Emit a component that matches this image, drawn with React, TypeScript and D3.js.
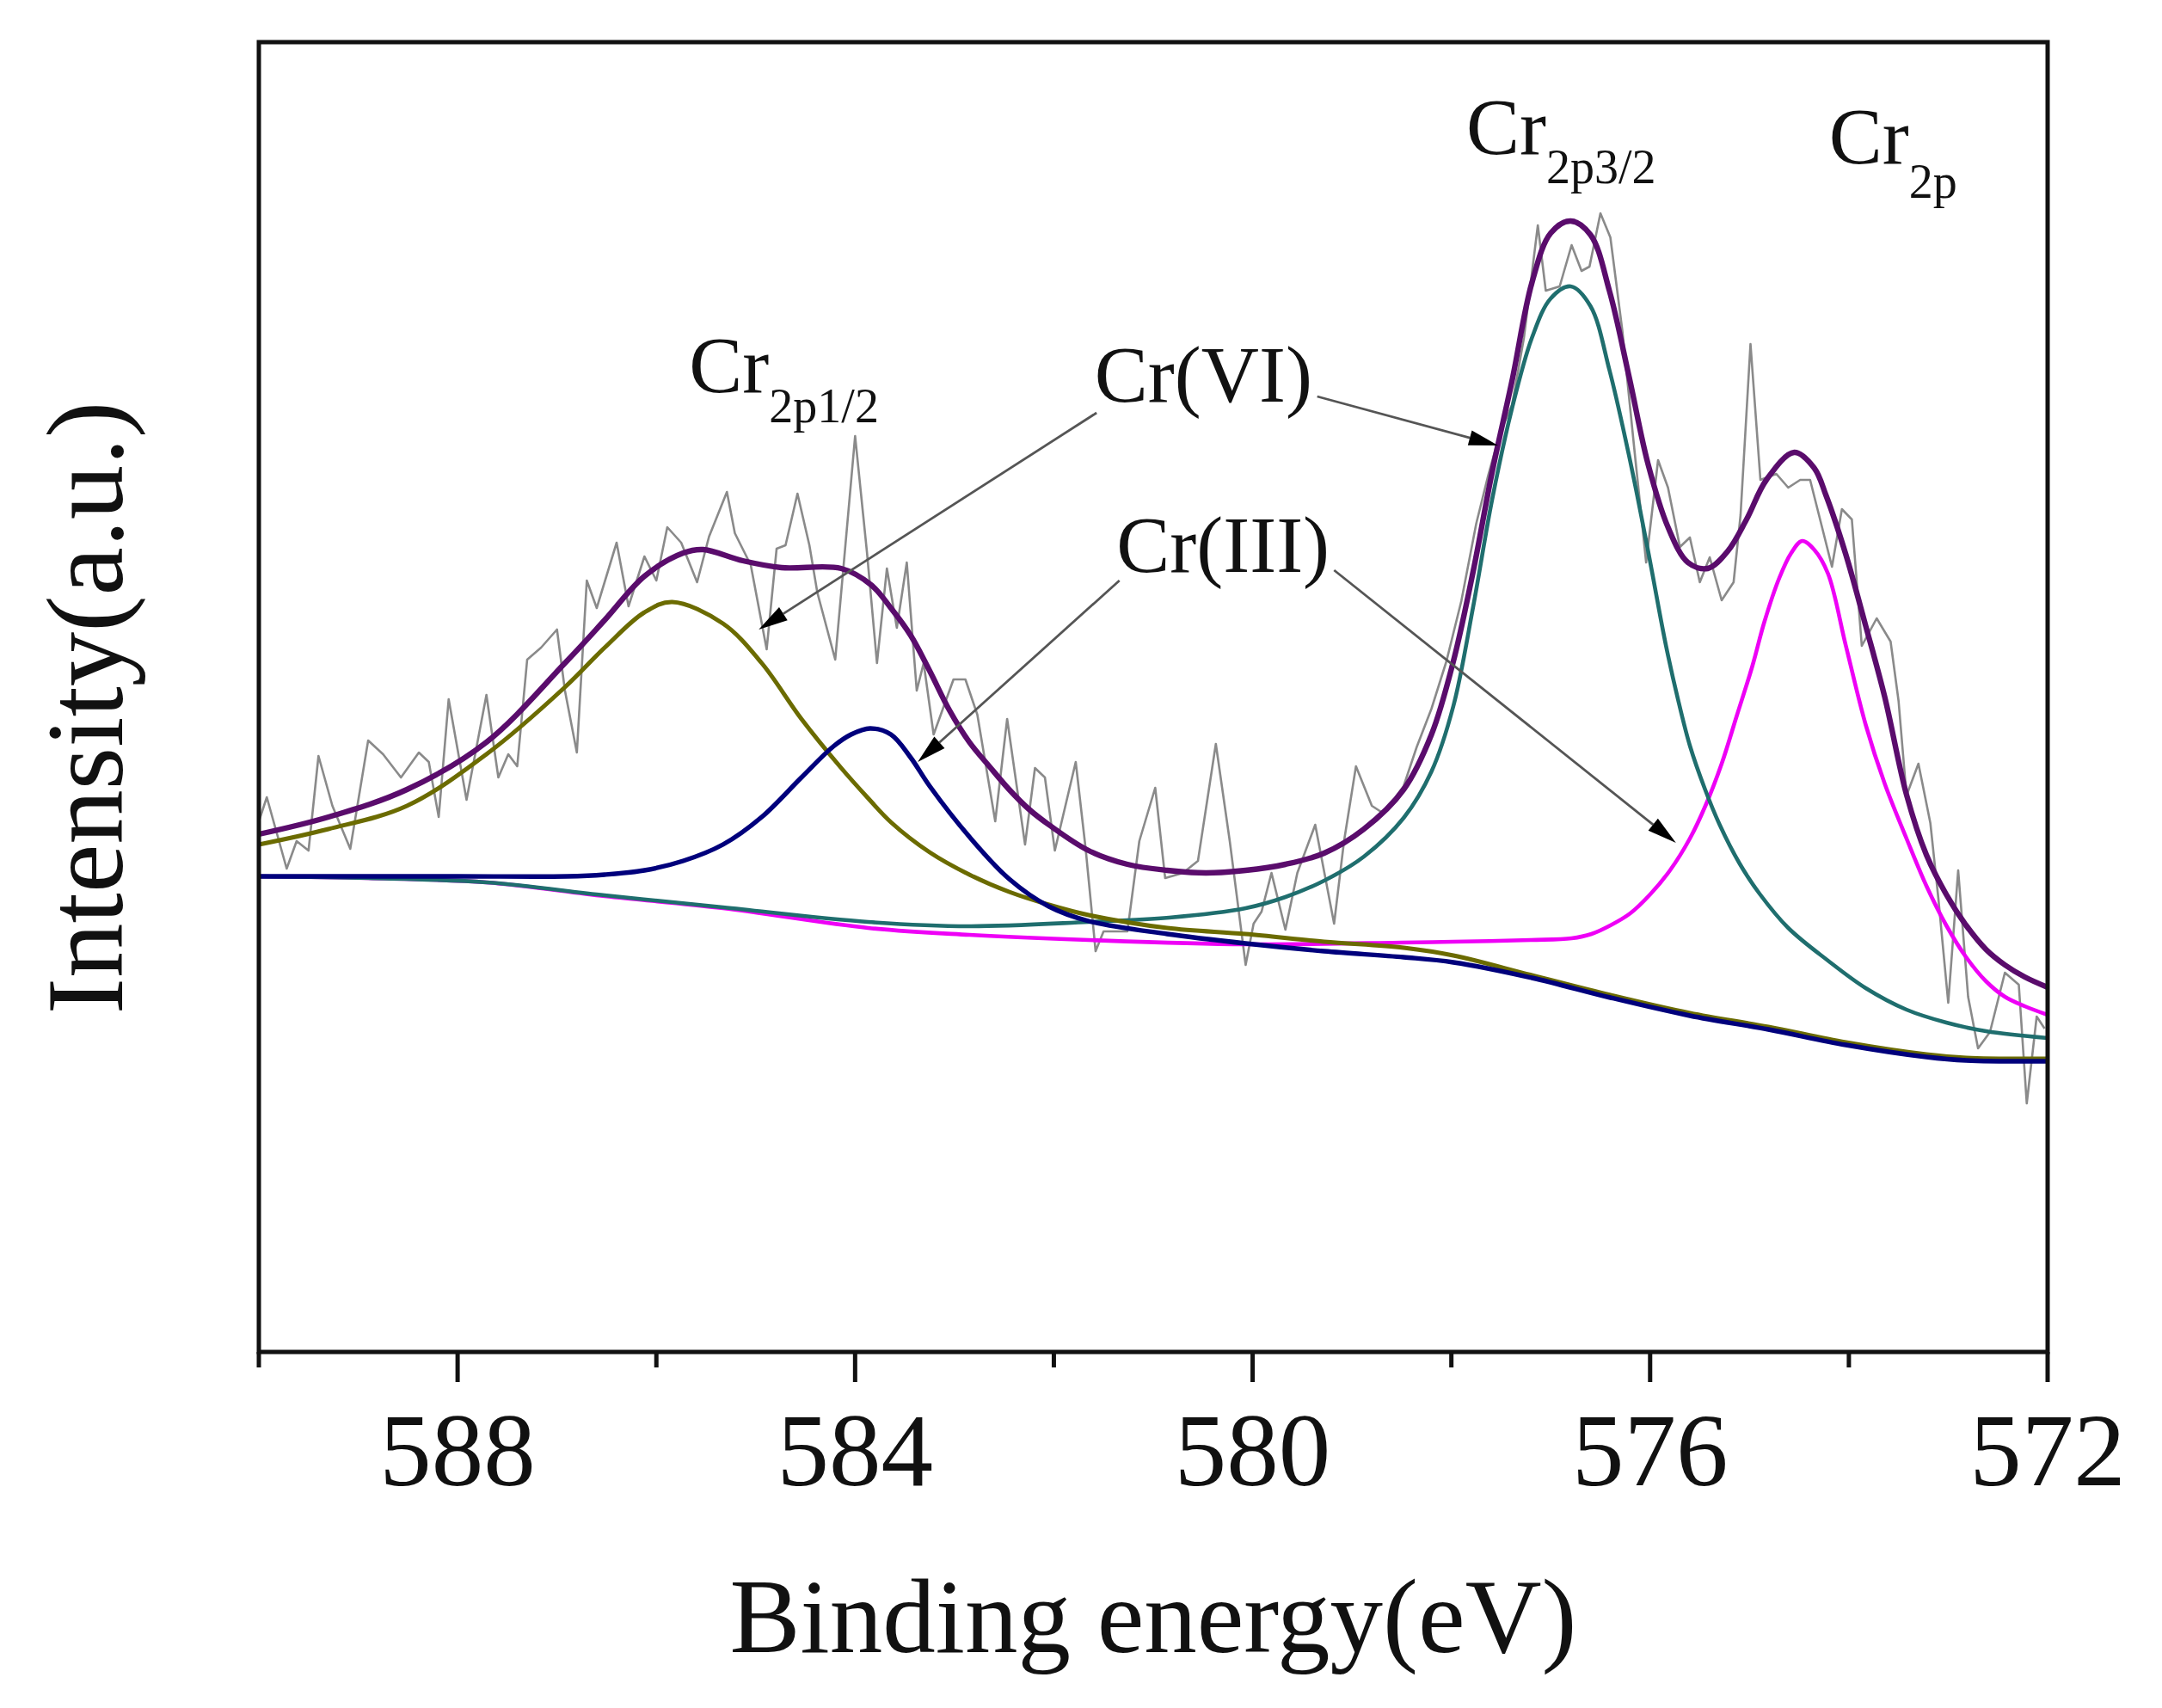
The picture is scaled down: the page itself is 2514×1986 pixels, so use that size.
import { useEffect } from "react"
import * as d3 from "d3"

const WIDTH = 2514
const HEIGHT = 1986

// [binding energy (eV), intensity (a.u.)]
const rawSpectrum: [number, number][] = [
  [590.0, 614], [589.92, 642], [589.72, 559], [589.62, 591], [589.5, 580], [589.4, 690],
  [589.26, 632], [589.08, 582], [588.9, 708], [588.75, 692], [588.57, 665], [588.39, 694],
  [588.29, 683], [588.19, 619], [588.09, 756], [587.91, 639], [587.71, 761], [587.59, 665],
  [587.49, 692], [587.4, 678], [587.3, 802], [587.16, 816], [587.0, 837], [586.92, 766],
  [586.8, 694], [586.7, 894], [586.6, 862], [586.4, 938], [586.28, 864], [586.12, 922],
  [586.0, 894], [585.89, 956], [585.75, 938], [585.59, 892], [585.47, 945], [585.29, 997],
  [585.21, 949], [585.05, 912], [584.89, 814], [584.79, 931], [584.7, 935], [584.58, 995],
  [584.46, 935], [584.38, 880], [584.2, 802], [584.0, 1062], [583.88, 926], [583.78, 798],
  [583.68, 908], [583.58, 839], [583.48, 915], [583.38, 766], [583.31, 798], [583.21, 715],
  [583.01, 779], [582.89, 779], [582.77, 738], [582.59, 614], [582.47, 733], [582.29, 587],
  [582.19, 676], [582.09, 665], [581.99, 580], [581.78, 683], [581.68, 582], [581.58, 463],
  [581.5, 486], [581.26, 486], [581.14, 591], [580.98, 653], [580.88, 548], [580.7, 554],
  [580.55, 568], [580.37, 704], [580.23, 591], [580.07, 447], [579.99, 495], [579.91, 509],
  [579.81, 554], [579.67, 488], [579.55, 554], [579.37, 610], [579.18, 495], [579.08, 591],
  [578.96, 678], [578.8, 632], [578.68, 623], [578.48, 655], [578.35, 700], [578.2, 745],
  [578.05, 800], [577.9, 870], [577.75, 960], [577.63, 1016], [577.51, 1066], [577.39, 1098],
  [577.27, 1176], [577.13, 1307], [577.05, 1231], [576.91, 1236], [576.79, 1284], [576.69, 1254],
  [576.61, 1259], [576.5, 1321], [576.4, 1293], [576.28, 1185], [576.16, 1048], [576.04, 915],
  [575.92, 1034], [575.82, 1002], [575.7, 933], [575.6, 944], [575.5, 892], [575.4, 921],
  [575.28, 871], [575.16, 892], [575.09, 970], [574.99, 1169], [574.89, 1011], [574.73, 1018],
  [574.61, 1002], [574.49, 1011], [574.39, 1011], [574.27, 956], [574.17, 910], [574.07, 977],
  [573.97, 965], [573.87, 818], [573.72, 850], [573.58, 823], [573.5, 754], [573.42, 644],
  [573.3, 681], [573.18, 612], [573.1, 525], [573.0, 403], [572.9, 557], [572.8, 410],
  [572.7, 350], [572.58, 369], [572.43, 438], [572.29, 424], [572.21, 286], [572.11, 387],
  [572.03, 373],
]

// cumulative fit (purple)
const envelopeFit: [number, number][] = [
  [590.0, 599], [589.3, 619], [588.51, 651], [587.71, 706], [586.92, 798], [586.52, 848],
  [586.12, 899], [585.73, 926], [585.53, 930], [585.13, 917], [584.74, 909], [584.14, 908],
  [583.84, 889], [583.64, 862], [583.44, 830], [583.25, 789], [583.05, 743], [582.85, 706],
  [582.65, 678], [582.45, 651], [582.25, 628], [582.05, 610], [581.65, 580], [581.26, 564],
  [580.86, 557], [580.47, 554], [580.07, 557], [579.67, 564], [579.28, 577], [578.88, 605],
  [578.48, 651], [578.2, 715], [577.98, 800], [577.78, 905], [577.59, 1020], [577.39, 1126],
  [577.19, 1240], [577.0, 1298], [576.8, 1312], [576.6, 1296], [576.41, 1231], [576.21, 1130],
  [576.02, 1029], [575.82, 956], [575.62, 915], [575.42, 908], [575.22, 928], [575.03, 965],
  [574.83, 1011], [574.55, 1043], [574.35, 1025], [574.23, 993], [574.03, 924], [573.83, 841],
  [573.64, 759], [573.42, 645], [573.22, 575], [573.02, 529], [572.82, 493], [572.62, 465],
  [572.43, 447], [572.23, 433], [572.0, 421],
]

// Cr(VI) 2p1/2 component (olive)
const cr6Peak2p12: [number, number][] = [
  [590.0, 587], [589.3, 605], [588.51, 632], [587.71, 692], [586.92, 770], [586.52, 816],
  [586.12, 857], [585.84, 869], [585.33, 844], [584.94, 798], [584.54, 733], [584.14, 676],
  [583.87, 641], [583.64, 613], [583.25, 578], [582.85, 552], [582.45, 532], [582.05, 517],
  [581.65, 505], [580.86, 490], [580.07, 483], [579.28, 474], [578.48, 467], [577.98, 458],
  [577.19, 435], [576.4, 412], [575.6, 391], [574.81, 375], [574.03, 357], [573.22, 343],
  [572.82, 339], [572.0, 338],
]

// Cr(III) 2p1/2 component (navy)
const cr3Peak2p12: [number, number][] = [
  [590.0, 550], [588.0, 550], [586.9, 550], [586.52, 552], [586.12, 557], [585.73, 568],
  [585.33, 587], [584.94, 619], [584.54, 665], [584.22, 701], [584.04, 715], [583.85, 722],
  [583.64, 715], [583.44, 688], [583.25, 655], [582.85, 596], [582.45, 547], [582.05, 515],
  [581.65, 498], [580.86, 483], [580.07, 472], [579.28, 463], [578.48, 456], [577.98, 450],
  [577.19, 432], [576.4, 409], [575.6, 388], [574.81, 372], [574.03, 354], [573.22, 340],
  [572.82, 336], [572.0, 335],
]

// Cr(VI) 2p3/2 component (teal)
const cr6Peak2p32: [number, number][] = [
  [590.0, 550], [588.9, 548], [587.71, 543], [586.52, 528], [585.33, 514], [583.87, 497],
  [582.85, 492], [581.65, 497], [580.84, 502], [580.07, 513], [579.67, 526], [579.28, 545],
  [578.88, 573], [578.48, 618], [578.2, 672], [577.98, 748], [577.78, 864], [577.59, 988],
  [577.39, 1094], [577.19, 1176], [577.0, 1222], [576.8, 1236], [576.6, 1213], [576.41, 1139],
  [576.21, 1038], [576.02, 928], [575.84, 818], [575.72, 756], [575.6, 702], [575.45, 652],
  [575.3, 610], [575.1, 565], [574.9, 530], [574.61, 490], [574.21, 452], [573.83, 420],
  [573.42, 395], [573.02, 380], [572.62, 370], [572.0, 362],
]

// Cr(III) 2p3/2 component (magenta)
const cr3Peak2p32: [number, number][] = [
  [590.0, 550], [588.9, 548], [587.71, 543], [586.52, 527], [585.33, 513], [583.87, 490],
  [582.85, 482], [581.65, 476], [580.07, 471], [578.5, 473], [577.98, 474], [577.2, 476],
  [576.79, 478], [576.59, 483], [576.4, 493], [576.2, 507], [576.0, 529], [575.8, 557],
  [575.6, 594], [575.44, 633], [575.28, 681], [575.13, 736], [574.97, 795], [574.85, 846],
  [574.7, 897], [574.58, 926], [574.47, 940], [574.35, 930], [574.21, 902], [574.03, 818],
  [573.83, 726], [573.64, 658], [573.42, 594], [573.22, 539], [573.02, 493], [572.82, 456],
  [572.62, 428], [572.43, 410], [572.23, 399], [572.0, 389],
]

const xTicks = [590, 588, 586, 584, 582, 580, 578, 576, 574, 572]
const xTickLabels = ["588", "584", "580", "576", "572"]

const peakLabels = [
  { main: "Cr", sub: "2p1/2", at: [585.67, 1113], subDy: 35 },
  { main: "Cr", sub: "2p3/2", at: [577.85, 1390], subDy: 34 },
  { main: "Cr", sub: "2p", at: [574.2, 1379], subDy: 40 },
]
const stateLabels = [
  { text: "Cr(VI)", at: [581.59, 1102] },
  { text: "Cr(III)", at: [581.37, 904] },
]
const arrows = [
  { from: [581.57, 1089], to: [584.97, 837] },
  { from: [579.35, 1108], to: [577.53, 1051] },
  { from: [581.34, 894], to: [583.37, 683] },
  { from: [579.18, 906], to: [575.74, 589] },
]

const FONT = "'Liberation Serif', 'Times New Roman', serif"

export default function App() {
  useEffect(() => {
    document.body.style.margin = "0"
    document.body.style.overflow = "hidden"
  }, [])

  const x = d3.scaleLinear().domain([590, 572]).range([301, 2381])
  const y = d3.scaleLinear().domain([-3, 1520]).range([1572, 49])

  const smooth = d3.line<[number, number]>()
    .x(d => x(d[0]))
    .y(d => y(d[1]))
    .curve(d3.curveCatmullRom.alpha(0.5))
  const jagged = d3.line<[number, number]>()
    .x(d => x(d[0]))
    .y(d => y(d[1]))

  const fits = [
    { data: cr3Peak2p32, color: "#ee00f6", width: 4.6 },
    { data: cr6Peak2p32, color: "#1f6e6e", width: 4.6 },
    { data: cr6Peak2p12, color: "#6b6b00", width: 5 },
    { data: cr3Peak2p12, color: "#00007c", width: 5.4 },
    { data: envelopeFit, color: "#5a0c6c", width: 6.4 },
  ]

  const [x0, x1] = x.range()
  const [yBottom, yTop] = y.range()

  return (
    <div style={{ position: "absolute", left: 0, top: 0 }}>
      <svg width={WIDTH} height={HEIGHT} style={{ display: "block", background: "#fff" }} fontFamily={FONT}>
        <path d={jagged(rawSpectrum) || ""} fill="none" stroke="#8a8a8a" strokeWidth={2.6} strokeLinejoin="round" />
        {fits.map((f, i) => (
          <path key={i} d={smooth(f.data) || ""} fill="none" stroke={f.color} strokeWidth={f.width} />
        ))}

        {/* arrows */}
        {arrows.map((a, i) => {
          const sx = x(a.from[0]), sy = y(a.from[1])
          const tx = x(a.to[0]), ty = y(a.to[1])
          const len = Math.hypot(tx - sx, ty - sy)
          const ux = (tx - sx) / len, uy = (ty - sy) / len
          const bx = tx - ux * 34, by = ty - uy * 34
          const head = `${tx},${ty} ${bx - uy * 9},${by + ux * 9} ${bx + uy * 9},${by - ux * 9}`
          return (
            <g key={i}>
              <line x1={sx} y1={sy} x2={bx} y2={by} stroke="#555" strokeWidth={2.8} />
              <polygon points={head} fill="#000" />
            </g>
          )
        })}

        {/* frame */}
        <rect x={x0} y={yTop} width={x1 - x0} height={yBottom - yTop} fill="none" stroke="#111" strokeWidth={5} />

        {/* x ticks */}
        {xTicks.map(t => {
          const major = xTickLabels.includes(String(t))
          return (
            <line key={t} x1={x(t)} x2={x(t)} y1={yBottom} y2={yBottom + (major ? 35 : 18)} stroke="#111" strokeWidth={5} />
          )
        })}
        {xTickLabels.map(l => (
          <text key={l} x={x(+l)} y={1727} fontSize={121} textAnchor="middle" fill="#111">{l}</text>
        ))}

        {/* axis titles */}
        <text x={(x0 + x1) / 2} y={1921} fontSize={123} textAnchor="middle" fill="#111">Binding energy(eV)</text>
        <text transform={`translate(142,823) rotate(-90)`} fontSize={127} textAnchor="middle" fill="#111">Intensity(a.u.)</text>

        {/* annotations */}
        {peakLabels.map((p, i) => (
          <text key={i} x={x(p.at[0])} y={y(p.at[1])} fontSize={93} fill="#111">
            {p.main}
            <tspan fontSize={56} dy={p.subDy}>{p.sub}</tspan>
          </text>
        ))}
        {stateLabels.map((s, i) => (
          <text key={i} x={x(s.at[0])} y={y(s.at[1])} fontSize={93} fill="#111">{s.text}</text>
        ))}
      </svg>
    </div>
  )
}
